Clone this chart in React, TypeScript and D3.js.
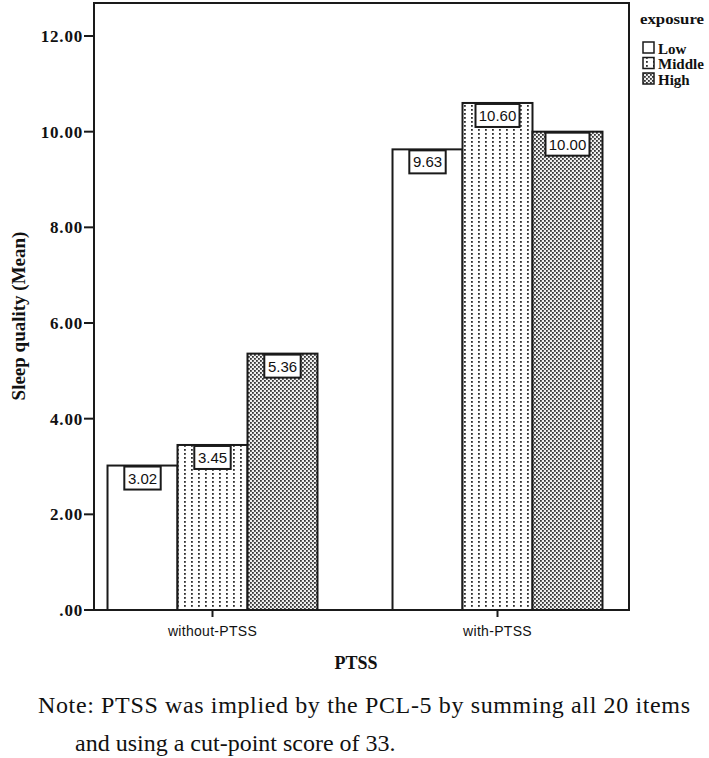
import React, { useEffect } from "react";
import * as d3 from "d3";

const categories = ["without-PTSS", "with-PTSS"];
const exposures = ["Low", "Middle", "High"];
const lowValues = [3.02, 9.63];
const middleValues = [3.45, 10.6];
const highValues = [5.36, 10.0];
const yTicks = [0, 2, 4, 6, 8, 10, 12];
const yTitle = "Sleep quality (Mean)";
const xTitle = "PTSS";
const legendTitle = "exposure";
const noteLines = [
  "Note: PTSS was implied by the PCL-5 by summing all 20 items",
  "and using a cut-point score of 33.",
];

const W = 709;
const H = 758;
const plot = { left: 94, right: 629, top: 3, bottom: 610 };

export default function App() {
  useEffect(() => {
    document.body.style.margin = "0";
  }, []);

  const series = [lowValues, middleValues, highValues];
  const y = d3.scaleLinear().domain([0, 12.69]).range([plot.bottom, plot.top]);
  const x0 = d3.scaleBand<string>().domain(categories).range([70, 640]).padding(0);
  const x1 = d3
    .scaleBand<string>()
    .domain(exposures)
    .range([0, x0.bandwidth()])
    .paddingInner(0)
    .paddingOuter(0.536);
  const fmt = d3.format(".2f");
  const tickFmt = (v: number) => fmt(v).replace(/^0\./, ".");
  const fills = ["#ffffff", "url(#pMid)", "url(#pHigh)"];
  const serif = "'Liberation Serif', 'Times New Roman', serif";
  const sans = "'Liberation Sans', Arial, sans-serif";
  const ink = "#1a1a1a";

  return (
    <svg width={W} height={H} style={{ display: "block", position: "absolute", left: 0, top: 0, background: "#fff" }}>
      <defs>
        <pattern id="pMid" width="7" height="4" patternUnits="userSpaceOnUse">
          <rect width="7" height="4" fill="#fff" />
          <rect x="2" y="1" width="1.8" height="1.8" fill="#2e2e2e" />
        </pattern>
        <pattern id="pHigh" width="4" height="4" patternUnits="userSpaceOnUse">
          <rect width="4" height="4" fill="#eeeeee" />
          <rect x="0" y="0" width="1.8" height="1.8" fill="#353535" />
          <rect x="2" y="2" width="1.8" height="1.8" fill="#353535" />
        </pattern>
      </defs>

      {/* bars */}
      {categories.map((c, ci) =>
        exposures.map((e, ei) => {
          const v = series[ei][ci];
          const bx = (x0(c) ?? 0) + (x1(e) ?? 0);
          const bw = x1.bandwidth();
          const top = y(v);
          return (
            <rect
              key={c + e}
              x={bx}
              y={top}
              width={bw}
              height={plot.bottom - top}
              fill={fills[ei]}
              stroke={ink}
              strokeWidth={2}
            />
          );
        })
      )}

      {/* value labels */}
      {categories.map((c, ci) =>
        exposures.map((e, ei) => {
          const v = series[ei][ci];
          const cx = (x0(c) ?? 0) + (x1(e) ?? 0) + x1.bandwidth() / 2;
          const top = y(v) + 1;
          const label = fmt(v);
          const tw = label.length * 7.6 + 1;
          const bw = tw + 5;
          return (
            <g key={"l" + c + e}>
              <rect x={cx - bw / 2} y={top} width={bw} height={23} fill="#fff" stroke={ink} strokeWidth={2} />
              <text x={cx} y={top + 17} textAnchor="middle" fontFamily={sans} fontSize={15} fill="#111">
                {label}
              </text>
            </g>
          );
        })
      )}

      {/* frame */}
      <rect
        x={plot.left}
        y={plot.top}
        width={plot.right - plot.left}
        height={plot.bottom - plot.top}
        fill="none"
        stroke={ink}
        strokeWidth={2}
      />

      {/* y ticks */}
      {yTicks.map((t) => (
        <g key={"y" + t}>
          <line x1={plot.left - 10} x2={plot.left} y1={y(t)} y2={y(t)} stroke={ink} strokeWidth={2} />
          <text
            x={plot.left - 11}
            y={y(t) + 6}
            textAnchor="end"
            fontFamily={serif}
            fontWeight="bold"
            fontSize={17}
            letterSpacing={0.8}
            fill="#111"
          >
            {tickFmt(t)}
          </text>
        </g>
      ))}

      {/* x ticks */}
      {categories.map((c) => {
        const cx = (x0(c) ?? 0) + x0.bandwidth() / 2;
        return (
          <g key={"x" + c}>
            <line x1={cx} x2={cx} y1={plot.bottom} y2={plot.bottom + 7} stroke={ink} strokeWidth={2} />
            <text x={cx} y={plot.bottom + 26} textAnchor="middle" fontFamily={sans} fontSize={14} letterSpacing={0.3} fill="#111">
              {c}
            </text>
          </g>
        );
      })}

      {/* axis titles */}
      <text
        transform={`translate(25, 316) rotate(-90)`}
        textAnchor="middle"
        fontFamily={serif}
        fontWeight="bold"
        fontSize={19}
        fill="#111"
      >
        {yTitle}
      </text>
      <text x={356} y={669} textAnchor="middle" fontFamily={serif} fontWeight="bold" fontSize={18} fill="#111">
        {xTitle}
      </text>

      {/* legend */}
      <text x={640} y={24} fontFamily={serif} fontWeight="bold" fontSize={15} textLength={64} lengthAdjust="spacingAndGlyphs" fill="#111">
        {legendTitle}
      </text>
      {exposures.map((e, i) => (
        <g key={"lg" + e}>
          <rect x={643} y={42 + i * 15.5} width={11} height={11} fill={fills[i]} stroke={ink} strokeWidth={1.5} />
          <text x={658} y={53.5 + i * 15.5} fontFamily={serif} fontWeight="bold" fontSize={15} fill="#111">
            {e}
          </text>
        </g>
      ))}

      {/* note */}
      <text x={38} y={713} fontFamily={serif} fontSize={24} fill="#111" textLength={652} lengthAdjust="spacing">
        {noteLines[0]}
      </text>
      <text x={75} y={751} fontFamily={serif} fontSize={24} fill="#111">
        {noteLines[1]}
      </text>
    </svg>
  );
}
